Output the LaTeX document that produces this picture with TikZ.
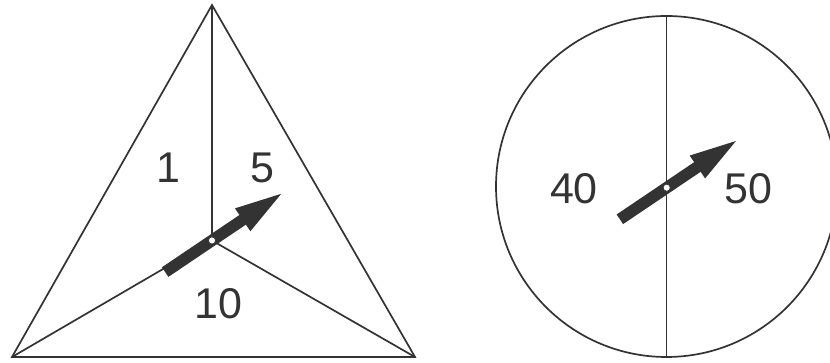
\documentclass[tikz,border=0pt]{standalone}
\usepackage{fontspec}
\setmainfont{Liberation Sans}
\definecolor{ink}{HTML}{333333}
\tikzset{
  edge/.style={draw=ink, line width=1.7pt},
  lbl/.style={inner sep=0pt, text=ink, font=\fontsize{43}{43}\selectfont},
  needle/.style={fill=ink},
  hub/.style={fill=white, draw=ink, line width=0.8pt}
}
\begin{document}
\begin{tikzpicture}[x=1pt,y=1pt]
\useasboundingbox (0,0) rectangle (830,363);
% triangle spinner
\coordinate (T) at (212,358);
\coordinate (BL) at (12,6);
\coordinate (BR) at (415,6);
\coordinate (P1) at (212,122.5);
\draw[edge, line join=miter] (T) -- (BL) -- (BR) -- cycle;
\draw[edge] (P1) -- (T);
\draw[edge] (P1) -- (BL);
\draw[edge] (P1) -- (BR);
\node[lbl] (one) at (168,195) {1};
\node[lbl] (five) at (262,195) {5};
\node[lbl] (ten) at (218.5,59.5) {10};
\fill[needle, shift={(P1)}, rotate=34] (-56.5,-5.8) -- (37,-5.8) -- (37,-13.8) -- (83.5,0) -- (37,13.8) -- (37,5.8) -- (-56.5,5.8) -- cycle;
\draw[hub] (P1) circle (3.6);
% circle spinner
\coordinate (C) at (666.5,176.5);
\coordinate (CT) at (666.5,347);
\coordinate (CB) at (666.5,6);
\begin{scope}
\clip (0,0) rectangle (830,363);
\draw[edge] (C) circle (170.5);
\end{scope}
\draw[edge] (CT) -- (CB);
\node[lbl] (forty) at (574,174.5) {40};
\node[lbl] (fifty) at (748,174.5) {50};
\coordinate (P2) at (666.7,175.3);
\fill[needle, shift={(P2)}, rotate=34] (-56.5,-5.8) -- (37,-5.8) -- (37,-13.8) -- (83.5,0) -- (37,13.8) -- (37,5.8) -- (-56.5,5.8) -- cycle;
\draw[hub] (P2) circle (3.6);
\end{tikzpicture}
\end{document}
